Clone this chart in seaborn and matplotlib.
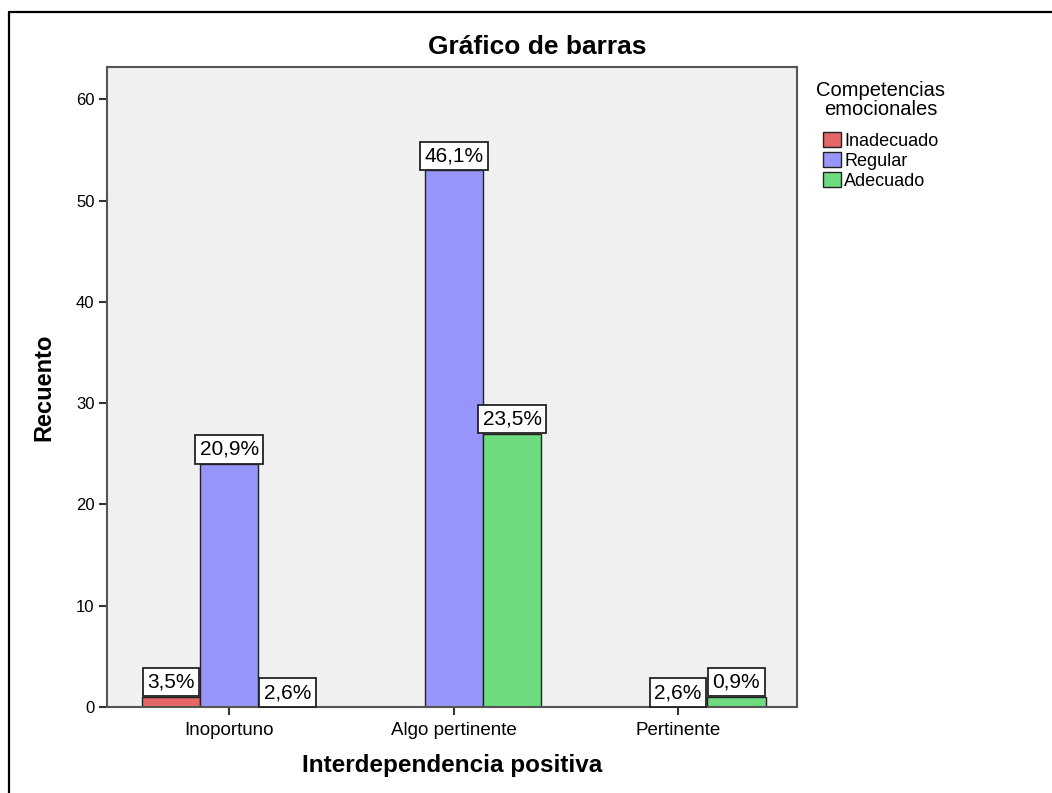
import matplotlib
matplotlib.use("Agg")
import matplotlib.pyplot as plt
import seaborn as sns
import pandas as pd
from matplotlib.lines import Line2D

categories = ["Inoportuno", "Algo pertinente", "Pertinente"]
levels = ["Inadecuado", "Regular", "Adecuado"]
inadecuado = [1, 0, 0]
regular = [24, 53, 0]
adecuado = [0, 27, 1]
pct_inadecuado = ["3,5%", "", ""]
pct_regular = ["20,9%", "46,1%", "2,6%"]
pct_adecuado = ["2,6%", "23,5%", "0,9%"]

colors = ["#E46666", "#9696FA", "#6FDB7F"]

df = pd.DataFrame({
    "Interdependencia positiva": categories * 3,
    "Competencias": [levels[0]] * 3 + [levels[1]] * 3 + [levels[2]] * 3,
    "Recuento": inadecuado + regular + adecuado,
})

sns.set_style("white")
plt.rcParams["font.family"] = ["Liberation Sans", "DejaVu Sans"]
plt.rcParams["text.color"] = "black"
plt.rcParams["axes.labelcolor"] = "black"
plt.rcParams["xtick.color"] = "black"
plt.rcParams["ytick.color"] = "black"

fig = plt.figure(figsize=(10.52, 7.93), dpi=100)
ax = fig.add_axes([0.1017, 0.1084, 0.6559, 0.8071])
ax.set_facecolor("#F0F0F0")

sns.barplot(data=df, x="Interdependencia positiva", y="Recuento",
            hue="Competencias", order=categories, hue_order=levels,
            palette=colors, saturation=1, width=0.78,
            edgecolor="#222222", linewidth=1.0, ax=ax)

for cont, labs in zip(ax.containers, [pct_inadecuado, pct_regular, pct_adecuado]):
    ax.bar_label(cont, labels=labs, padding=3.6, fontsize=15,
                 bbox=dict(boxstyle="square,pad=0.22", fc="white",
                           ec="#222222", lw=1.3))

ax.set_xlim(-0.545, 2.53)
ax.set_ylim(0, 63.2)
ax.set_yticks([0, 10, 20, 30, 40, 50, 60])
ax.tick_params(axis="both", direction="out", length=6, width=1.5,
               color="#333333", labelsize=12, pad=3, left=True, bottom=True)
ax.tick_params(axis="x", labelsize=13.5, pad=5)
for s in ax.spines.values():
    s.set_color("#555555")
    s.set_linewidth(1.5)

fig.text(537 / 1052, 1 - 47 / 793, "Gráfico de barras", fontsize=19,
         fontweight="bold", ha="center", va="center")
ax.set_ylabel("Recuento", fontsize=17, fontweight="bold")
ax.set_xlabel("Interdependencia positiva", fontsize=17.5, fontweight="bold")
ax.yaxis.set_label_coords(-0.075, 0.5)
ax.xaxis.set_label_coords(0.5, -0.073)

sns.move_legend(ax, loc="upper left", bbox_to_anchor=(1.004, 1.003),
                frameon=False, title="Competencias\nemocionales",
                fontsize=13, title_fontsize=14.5, handlelength=1.0,
                handleheight=0.9, handletextpad=0.2, labelspacing=0.12)
leg = ax.get_legend()
leg.get_title().set_linespacing(0.95)
leg.get_title().set_multialignment("center")
leg._legend_box.sep = 10
for h in leg.legend_handles:
    h.set_edgecolor("#222222")

# outer frame (left and top only visible)
fig.add_artist(Line2D([8.5 / 1052, 8.5 / 1052], [0, 1 - 12 / 793],
                      transform=fig.transFigure, color="black", lw=1.6))
fig.add_artist(Line2D([8.5 / 1052, 1], [1 - 12 / 793, 1 - 12 / 793],
                      transform=fig.transFigure, color="black", lw=1.6))

fig.savefig("out.png", dpi=100)
